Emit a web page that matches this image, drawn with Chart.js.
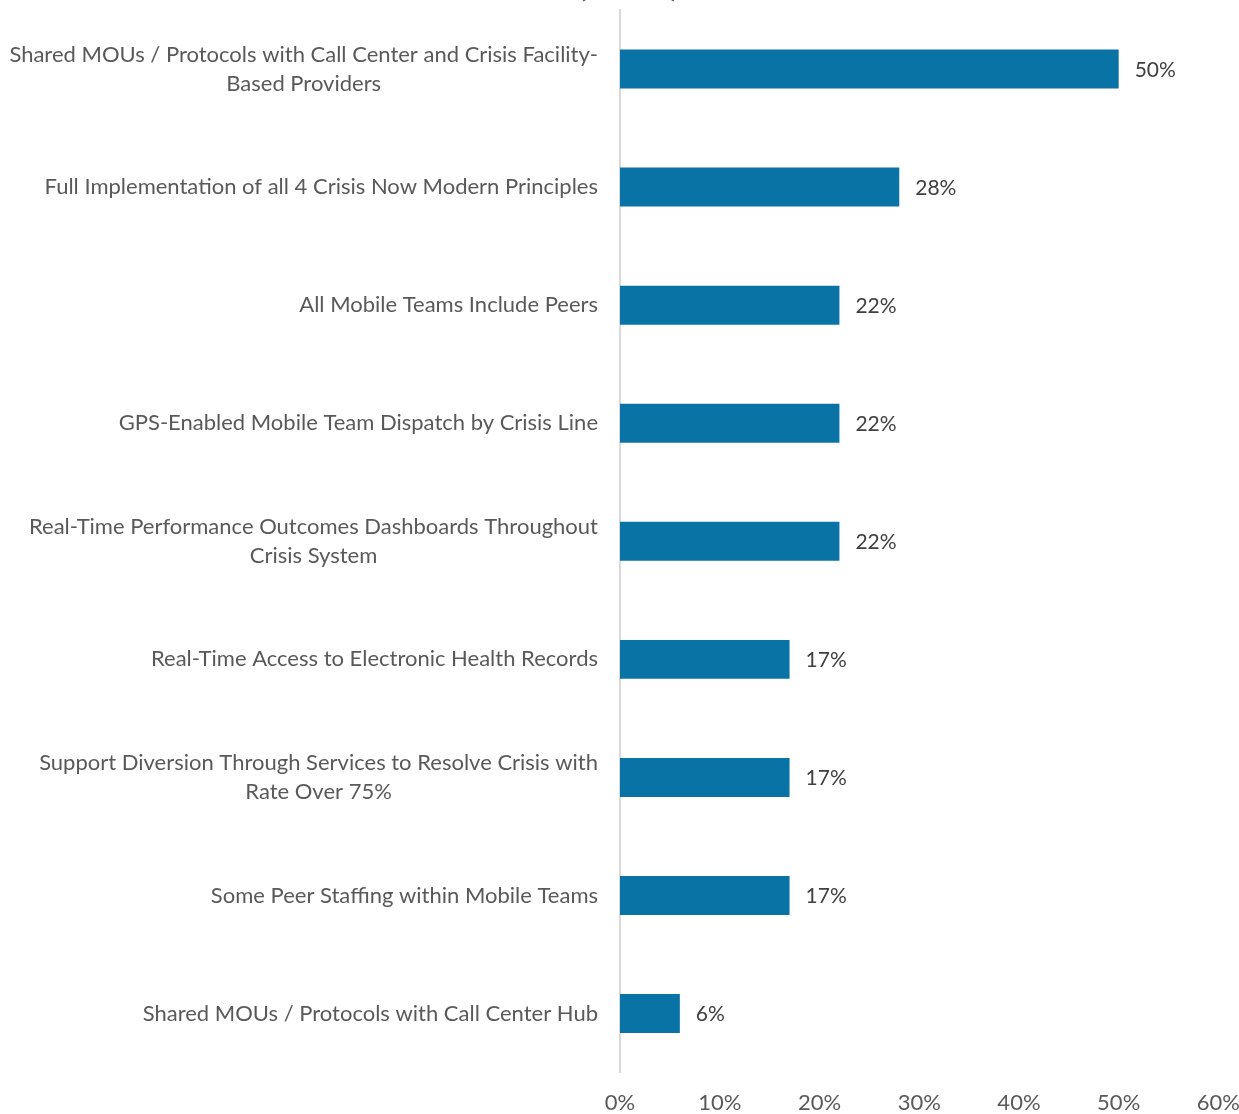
<!DOCTYPE html>
<html>
<head>
<meta charset="utf-8">
<script src="https://cdn.jsdelivr.net/npm/chart.js@4"></script>
<style>
  html, body { margin: 0; padding: 0; background: #fff; overflow: hidden; }
  #frame { position: relative; width: 1239px; height: 1114px; overflow: hidden; }
  #wrap { position: absolute; left: 0; top: -50px; width: 1257px; height: 1183px; }
</style>
</head>
<body>
<div id="frame"><div id="wrap"><canvas id="c"></canvas></div></div>
<script>
// Crisis Now elements reported by sites (N = 18)
const categories = [
  ["Shared MOUs / Protocols with Call Center and Crisis Facility-", "Based Providers"],
  ["Full Implementation of all 4 Crisis Now Modern Principles"],
  ["All Mobile Teams Include Peers"],
  ["GPS-Enabled Mobile Team Dispatch by Crisis Line"],
  ["Real-Time Performance Outcomes Dashboards Throughout", "Crisis System"],
  ["Real-Time Access to Electronic Health Records"],
  ["Support Diversion Through Services to Resolve Crisis with", "Rate Over 75%"],
  ["Some Peer Staffing within Mobile Teams"],
  ["Shared MOUs / Protocols with Call Center Hub"]
];
const shareValues = [50, 28, 22, 22, 22, 17, 17, 17, 6];
const xTicks = [0, 10, 20, 30, 40, 50, 60];
const titleText = "(N = 18)";

const FONT = "Lato, 'Open Sans', sans-serif";
const LABEL_COLOR = "#595959";
const VALUE_COLOR = "#404040";
const BAR_COLOR = "#0a73a5";

// Category labels: block right-aligned against the axis, lines centered within the block
const categoryLabels = {
  id: "categoryLabels",
  afterDraw(chart) {
    const ctx = chart.ctx;
    const y = chart.scales.y;
    const right = chart.chartArea.left - 22;
    ctx.save();
    ctx.font = "22px " + FONT;
    ctx.fillStyle = LABEL_COLOR;
    ctx.textBaseline = "middle";
    ctx.textAlign = "center";
    const lh = 29;
    categories.forEach((lines, i) => {
      const cy = y.getPixelForValue(i);
      const widths = lines.map(l => ctx.measureText(l).width);
      const blockW = Math.max(...widths);
      const cx = right - blockW / 2;
      lines.forEach((l, j) => {
        const ly = cy + (j - (lines.length - 1) / 2) * lh;
        ctx.fillText(l, cx, ly);
      });
    });
    ctx.restore();
  }
};

// Value labels just past the end of each bar
const valueLabels = {
  id: "valueLabels",
  afterDatasetsDraw(chart) {
    const ctx = chart.ctx;
    const meta = chart.getDatasetMeta(0);
    ctx.save();
    ctx.font = "21px " + FONT;
    ctx.fillStyle = VALUE_COLOR;
    ctx.textBaseline = "middle";
    ctx.textAlign = "left";
    meta.data.forEach((bar, i) => {
      ctx.fillText(shareValues[i] + "%", bar.x + 16, bar.y + 1);
    });
    ctx.restore();
  }
};

new Chart(document.getElementById("c"), {
  type: "bar",
  data: {
    labels: categories.map(l => l.join(" ")),
    datasets: [{
      data: shareValues,
      backgroundColor: BAR_COLOR,
      borderWidth: 0,
      categoryPercentage: 1,
      barPercentage: 0.33
    }]
  },
  options: {
    indexAxis: "y",
    responsive: true,
    maintainAspectRatio: false,
    animation: false,
    layout: { padding: { left: 0, right: 0, top: 0, bottom: 0 } },
    plugins: {
      legend: { display: false },
      tooltip: { enabled: false },
      title: {
        display: true,
        text: titleText,
        color: LABEL_COLOR,
        font: { family: FONT, size: 28, weight: "bold", lineHeight: 0.8 },
        padding: { top: 26.6, bottom: 11 }
      }
    },
    scales: {
      x: {
        min: 0,
        max: 60,
        afterBuildTicks(scale) { scale.ticks = xTicks.map(v => ({ value: v })); },
        ticks: {
          callback: v => v + "%",
          color: LABEL_COLOR,
          font: { family: FONT, size: 22 },
          padding: 17,
          maxRotation: 0
        },
        grid: { display: false, drawTicks: false },
        border: { display: false }
      },
      y: {
        ticks: { display: false },
        grid: { display: false, drawTicks: false },
        border: { display: true, color: "#d9d9d9", width: 2 },
        afterFit(scale) { scale.width = 620; }
      }
    }
  },
  plugins: [categoryLabels, valueLabels]
});
</script>
</body>
</html>
